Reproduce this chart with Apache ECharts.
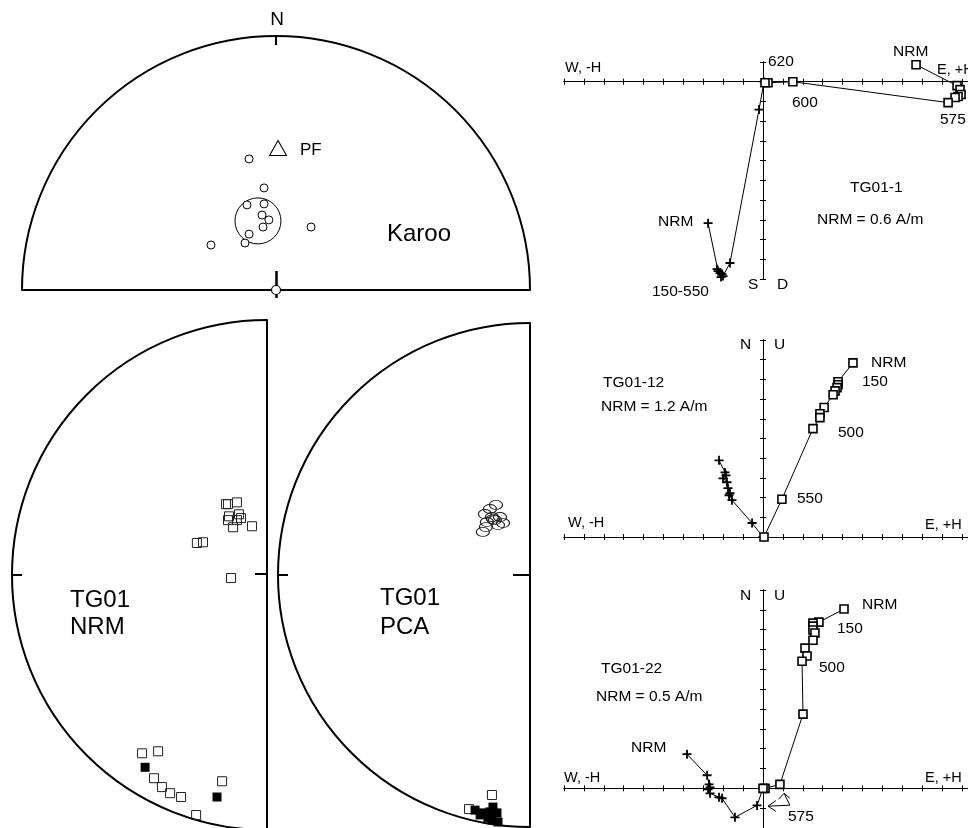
<!DOCTYPE html>
<html><head><meta charset="utf-8">
<script src="https://cdn.jsdelivr.net/npm/echarts@6/dist/echarts.min.js"></script>
<style>html,body{margin:0;padding:0;background:#fff}#c{width:968px;height:828px}</style>
</head><body><div id="c"></div>
<script>
// ---------- Data (stereonet values in net-radius units; Zijderveld values in tick units) ----------
const karooSites = [[-0.106,0.516],[-0.047,0.402],[-0.114,0.335],[-0.047,0.339],[-0.055,0.295],[-0.028,0.276],[-0.051,0.248],[-0.106,0.220],[-0.122,0.185],[-0.256,0.177],[0.138,0.248]];
const karooMean = [[-0.071,0.272]];
const karooPF = [[0.008,0.559]];
const karooCentre = [[0,0]];

const nrmOpen = [[-0.161,0.275],[-0.153,0.275],[-0.118,0.282],[-0.149,0.227],[-0.110,0.235],[-0.102,0.220],[-0.153,0.212],[-0.133,0.184],[-0.059,0.188],[-0.118,0.212],[-0.275,0.122],[-0.251,0.125],[-0.141,-0.016],
  [-0.490,-0.706],[-0.427,-0.698],[-0.443,-0.804],[-0.412,-0.839],[-0.380,-0.863],[-0.337,-0.878],[-0.278,-0.949],[-0.176,-0.816]];
const nrmFilled = [[-0.478,-0.761],[-0.196,-0.878]];

const pcaEllipses = [[-0.135,0.278],[-0.159,0.262],[-0.179,0.242],[-0.151,0.230],[-0.119,0.230],[-0.171,0.210],[-0.139,0.218],[-0.107,0.206],[-0.175,0.190],[-0.187,0.171],[-0.147,0.222],[-0.127,0.198]];
const pcaOpen = [[-0.151,-0.873],[-0.242,-0.929]];
const pcaFilled = [[-0.218,-0.933],[-0.198,-0.952],[-0.187,-0.944],[-0.159,-0.940],[-0.147,-0.921],[-0.131,-0.944],[-0.151,-0.972],[-0.127,-0.980],[-0.167,-0.964]];

const z1Horiz = [[7.69,0.86],[9.75,-0.2],[9.9,-0.4],[9.95,-0.65],[9.8,-0.75],[9.65,-0.8],[9.3,-1.06],[1.5,0],[0.25,-0.05],[0.1,-0.05]];
const z1Vert = [[-2.76,-7.17],[-2.26,-9.6],[-2.16,-9.7],[-2.06,-9.75],[-2.31,-9.5],[-2.01,-9.85],[-2.11,-9.9],[-1.66,-9.19],[-0.2,-1.41],[0.05,0]];
const z2Horiz = [[4.52,8.84],[3.77,7.88],[3.77,7.73],[3.72,7.58],[3.62,7.42],[3.52,7.22],[3.07,6.57],[2.86,6.26],[2.86,6.06],[2.51,5.5],[0.95,1.92],[0.05,0]];
const z2Vert = [[-2.21,3.89],[-1.91,3.28],[-1.86,3.13],[-2.01,2.98],[-1.81,2.78],[-1.76,2.48],[-1.66,2.22],[-1.71,2.12],[-1.56,1.87],[-0.55,0.71],[0,0]];
const z3Horiz = [[4.07,9.04],[2.81,8.38],[2.51,8.33],[2.51,8.18],[2.51,7.98],[2.61,7.83],[2.51,7.47],[2.11,7.07],[2.21,6.67],[1.96,6.41],[2.01,3.74],[0.85,0.2],[0.1,0],[0,0]];
const z3Vert = [[-3.82,1.72],[-2.81,0.66],[-2.71,0.2],[-2.66,0.05],[-2.76,-0.05],[-2.66,-0.25],[-2.21,-0.45],[-2.06,-0.5],[-1.41,-1.46],[-0.3,-0.86],[0,0]];
const z3ArrowA = [[0.65,-0.62],[0.25,-0.9],[0.65,-1.16]];
const z3StemA = [[0.25,-0.9],[1.35,-0.85]];
const z3ArrowB = [[0.78,-0.55],[1.06,-0.25],[1.35,-0.5]];
const z3StemB = [[1.06,-0.25],[1.35,-0.85]];

const zxTicks = [-10,-9,-8,-7,-6,-5,-4,-3,-2,-1,0,1,2,3,4,5,6,7,8,9,10];
const z1yTicks = [1,0,-1,-2,-3,-4,-5,-6,-7,-8,-9,-10];
const z2yTicks = [0,1,2,3,4,5,6,7,8,9,10];
const z3yTicks = [-2,-1,0,1,2,3,4,5,6,7,8,9,10];
const netMidTick = [0];
const netArcTick = [90];

// ---------- Styling helpers ----------
const FONT = 'Liberation Sans, Arial, Helvetica, sans-serif';
const K = '#000';
const plusPath = 'path://M3.6,0H5.4V3.6H9V5.4H5.4V9H3.6V5.4H0V3.6H3.6Z';
const CLEAR = 'rgba(255,255,255,0)';

function hidden(gi, min, max) { return {gridIndex: gi, type: 'value', min: min, max: max, show: false}; }
function zx(gi, inside) {
  return {gridIndex: gi, type: 'value', min: -10, max: 10.3, position: 'bottom',
    axisLine: {show: true, onZero: true, lineStyle: {color: K, width: 1}},
    axisTick: {show: true, inside: inside, length: 3, customValues: zxTicks, lineStyle: {color: K, width: 1}},
    axisLabel: {show: false}, splitLine: {show: false}};
}
function zy(gi, min, max, ticks, inside) {
  return {gridIndex: gi, type: 'value', min: min, max: max, position: 'left',
    axisLine: {show: true, onZero: true, lineStyle: {color: K, width: 1}},
    axisTick: {show: true, inside: inside, length: 3, customValues: ticks, lineStyle: {color: K, width: 1}},
    axisLabel: {show: false}, splitLine: {show: false}};
}
function angle(pi, start, end, cw, tickLen) {
  return {polarIndex: pi, type: 'value', min: 0, max: 180, interval: 90, startAngle: start, endAngle: end, clockwise: cw,
    axisLine: {show: true, lineStyle: {color: K, width: 2}},
    axisTick: {show: true, inside: true, length: tickLen, customValues: netArcTick, lineStyle: {color: K, width: 2}},
    axisLabel: {show: false}, splitLine: {show: false}};
}
function txt(x, y, s, size, align) {
  return {type: 'text', x: x, y: y, silent: true,
    style: {text: s, fontSize: size, fontFamily: FONT, fill: K, align: align || 'left', verticalAlign: 'middle'}};
}
function scat(xi, yi, data, symbol, size, fill, border, bw, z) {
  return {type: 'scatter', xAxisIndex: xi, yAxisIndex: yi, data: data, clip: false, symbol: symbol, symbolSize: size,
    itemStyle: {color: fill, borderColor: border, borderWidth: bw, opacity: 1}, z: z || 2};
}
function zLine(xi, yi, data, isH) {
  return {type: 'line', xAxisIndex: xi, yAxisIndex: yi, data: data, showSymbol: true, showAllSymbol: true,
    symbol: isH ? 'rect' : plusPath, symbolSize: isH ? 8 : 9, clip: false,
    lineStyle: {color: K, width: 1},
    itemStyle: isH ? {color: '#fff', borderColor: K, borderWidth: 1.6, opacity: 1} : {color: K, borderWidth: 0, opacity: 1},
    z: isH ? 4 : 3};
}
function plainLine(xi, yi, data) {
  return {type: 'line', xAxisIndex: xi, yAxisIndex: yi, data: data, showSymbol: false, symbol: 'none', clip: false,
    lineStyle: {color: K, width: 1}};
}

const LS = 15.5;
const option = {
  animation: false,
  backgroundColor: '#fff',
  polar: [
    {center: [276, 290], radius: 254},
    {center: [267, 575], radius: 255},
    {center: [530, 575], radius: 252}
  ],
  angleAxis: [angle(0, 180, 0, true, 9), angle(1, 90, 270, false, 10), angle(2, 90, 270, false, 10)],
  radiusAxis: [
    {polarIndex: 0, type: 'value', min: 0, max: 1, show: false},
    {polarIndex: 1, type: 'value', min: 0, max: 1, show: false},
    {polarIndex: 2, type: 'value', min: 0, max: 1, show: false}
  ],
  grid: [
    {left: 22, top: 36, width: 508, height: 254},
    {left: 12, top: 320, width: 255, height: 510},
    {left: 278, top: 323, width: 252, height: 504},
    {left: 564, top: 62, width: 404, height: 217},
    {left: 564, top: 340, width: 404, height: 197},
    {left: 564, top: 590, width: 404, height: 239}
  ],
  xAxis: [
    {gridIndex: 0, type: 'value', min: -1, max: 1, position: 'bottom',
      axisLine: {show: true, onZero: false, lineStyle: {color: K, width: 2}},
      axisTick: {show: true, inside: true, length: 19, customValues: netMidTick, lineStyle: {color: K, width: 2.5}},
      axisLabel: {show: false}, splitLine: {show: false}},
    {gridIndex: 0, type: 'value', min: -1, max: 1, position: 'bottom',
      axisLine: {show: false, onZero: false},
      axisTick: {show: true, inside: false, length: 8, customValues: netMidTick, lineStyle: {color: K, width: 2.5}},
      axisLabel: {show: false}, splitLine: {show: false}},
    hidden(1, -1, 0),
    hidden(2, -1, 0),
    zx(3, false), zx(3, true),
    zx(4, false), zx(4, true),
    zx(5, false), zx(5, true)
  ],
  yAxis: [
    hidden(0, 0, 1),
    {gridIndex: 1, type: 'value', min: -1, max: 1, position: 'right',
      axisLine: {show: true, onZero: false, lineStyle: {color: K, width: 2}},
      axisTick: {show: true, inside: true, length: 12, customValues: netMidTick, lineStyle: {color: K, width: 2}},
      axisLabel: {show: false}, splitLine: {show: false}},
    {gridIndex: 2, type: 'value', min: -1, max: 1, position: 'right',
      axisLine: {show: true, onZero: false, lineStyle: {color: K, width: 2}},
      axisTick: {show: true, inside: true, length: 17, customValues: netMidTick, lineStyle: {color: K, width: 2}},
      axisLabel: {show: false}, splitLine: {show: false}},
    zy(3, -10, 1, z1yTicks, false), zy(3, -10, 1, z1yTicks, true),
    zy(4, 0, 10, z2yTicks, false), zy(4, 0, 10, z2yTicks, true),
    zy(5, -2, 10, z3yTicks, false), zy(5, -2, 10, z3yTicks, true)
  ],
  series: [
    // Karoo net
    scat(0, 0, karooSites, 'circle', 8, '#fff', K, 1),
    scat(0, 0, karooMean, 'circle', 46, CLEAR, K, 1, 1),
    scat(0, 0, karooPF, 'triangle', [17, 15], '#fff', K, 1),
    scat(0, 0, karooCentre, 'circle', 9, '#fff', K, 1.2, 5),
    // TG01 NRM net
    scat(2, 1, nrmOpen, 'rect', 9, CLEAR, '#222', 1),
    scat(2, 1, nrmFilled, 'rect', 9, K, K, 0),
    // TG01 PCA net
    scat(3, 2, pcaEllipses, 'circle', [13, 9], CLEAR, '#222', 1),
    scat(3, 2, pcaOpen, 'rect', 9, CLEAR, '#222', 1),
    scat(3, 2, pcaFilled, 'rect', 9, K, K, 0),
    // Zijderveld TG01-1
    zLine(4, 3, z1Vert, false), zLine(4, 3, z1Horiz, true),
    // Zijderveld TG01-12
    zLine(6, 5, z2Vert, false), zLine(6, 5, z2Horiz, true),
    // Zijderveld TG01-22
    zLine(8, 7, z3Vert, false), zLine(8, 7, z3Horiz, true),
    plainLine(8, 7, z3ArrowA), plainLine(8, 7, z3StemA), plainLine(8, 7, z3ArrowB), plainLine(8, 7, z3StemB)
  ],
  graphic: [
    txt(277, 20, 'N', 19, 'center'),
    txt(300, 150, 'PF', 17),
    txt(387, 234, 'Karoo', 24),
    txt(70, 600, 'TG01', 24), txt(70, 627, 'NRM', 24),
    txt(380, 598, 'TG01', 24), txt(380, 627, 'PCA', 24),
    // TG01-1
    txt(565, 68, 'W, -H', 14.5), txt(937, 70, 'E, +H', 14.5),
    txt(768, 62, '620', LS), txt(792, 103, '600', LS), txt(940, 120, '575', LS),
    txt(893, 52, 'NRM', LS), txt(850, 188, 'TG01-1', LS), txt(817, 220, 'NRM = 0.6 A/m', LS),
    txt(658, 222, 'NRM', LS), txt(652, 292, '150-550', LS), txt(748, 285, 'S', LS), txt(777, 285, 'D', LS),
    // TG01-12
    txt(740, 345, 'N', LS), txt(774, 345, 'U', LS),
    txt(568, 523, 'W, -H', 14.5), txt(925, 525, 'E, +H', 14.5),
    txt(603, 383, 'TG01-12', LS), txt(601, 407, 'NRM = 1.2 A/m', LS),
    txt(871, 363, 'NRM', LS), txt(862, 382, '150', LS), txt(838, 433, '500', LS), txt(797, 499, '550', LS),
    // TG01-22
    txt(740, 596, 'N', LS), txt(774, 596, 'U', LS),
    txt(564, 778, 'W, -H', 14.5), txt(925, 778, 'E, +H', 14.5),
    txt(601, 669, 'TG01-22', LS), txt(596, 697, 'NRM = 0.5 A/m', LS),
    txt(862, 605, 'NRM', LS), txt(837, 629, '150', LS), txt(819, 668, '500', LS),
    txt(631, 748, 'NRM', LS), txt(788, 817, '575', LS)
  ]
};
const chart = echarts.init(document.getElementById('c'), null, {renderer: 'canvas'});
chart.setOption(option);
</script></body></html>
